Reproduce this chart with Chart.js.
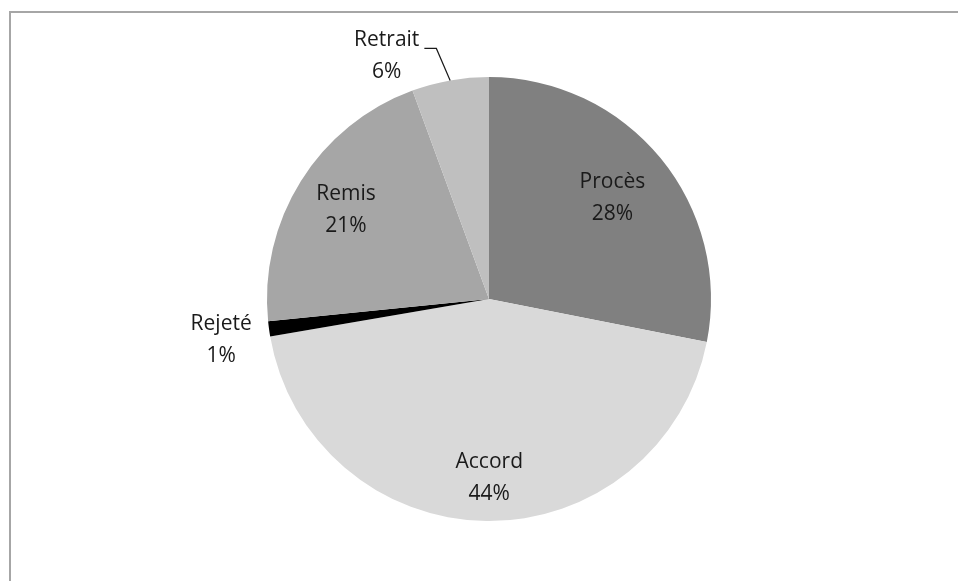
<!DOCTYPE html>
<html>
<head>
<meta charset="utf-8">
<script src="https://cdn.jsdelivr.net/npm/chart.js@4/dist/chart.umd.min.js"></script>
<style>
    html, body { margin: 0; padding: 0; background: #fff; }
    #wrap { width: 958px; height: 581px; }
</style>
</head>
<body>
<div id="wrap"><canvas id="chartIssues"></canvas></div>
<script>
const categories = ["Procès", "Accord", "Rejeté", "Remis", "Retrait"];
const shares = [28.1, 44.2, 1.1, 21.0, 5.6];
const sliceColors = ["#808080", "#d9d9d9", "#000000", "#a6a6a6", "#bfbfbf"];

// label placement per slice: [radius factor, angle shift in degrees]
const labelSpots = [[0.72, 0], [0.8, -0.8], [1.22, -0.8], [0.76, 0], [1.19, -12.7]];
const leaderSlices = [4];

const frame = {
    id: "frame",
    beforeDraw(chart) {
        const ctx = chart.ctx;
        ctx.save();
        ctx.strokeStyle = "#a6a6a6";
        ctx.lineWidth = 2;
        ctx.beginPath();
        ctx.moveTo(10, chart.height);
        ctx.lineTo(10, 12);
        ctx.lineTo(chart.width, 12);
        ctx.stroke();
        ctx.restore();
    }
};

const sliceLabels = {
    id: "sliceLabels",
    afterDatasetsDraw(chart) {
        const ctx = chart.ctx;
        const meta = chart.getDatasetMeta(0);
        const total = shares.reduce((a, b) => a + b, 0);
        ctx.save();
        ctx.font = "21px 'Open Sans'";
        ctx.fillStyle = "#1a1a1a";
        ctx.textAlign = "center";
        ctx.textBaseline = "middle";
        meta.data.forEach((arc, i) => {
            const { x, y, startAngle, endAngle, outerRadius } = arc.getProps(["x", "y", "startAngle", "endAngle", "outerRadius"], true);
            const mid = (startAngle + endAngle) / 2;
            const [k, shift] = labelSpots[i];
            const a = mid + shift * Math.PI / 180;
            const lx = x + Math.cos(a) * outerRadius * k;
            const ly = y + Math.sin(a) * outerRadius * k;
            const pct = Math.round(shares[i] / total * 100) + "%";
            ctx.fillText(categories[i], lx, ly - 15);
            ctx.fillText(pct, lx, ly + 17);

            if (leaderSlices.includes(i)) {
                const ex = x + Math.cos(mid) * outerRadius;
                const ey = y + Math.sin(mid) * outerRadius;
                const w = ctx.measureText(categories[i]).width;
                ctx.strokeStyle = "#1a1a1a";
                ctx.lineWidth = 1.2;
                ctx.beginPath();
                ctx.moveTo(lx + w / 2 + 5, ly - 7);
                ctx.lineTo(lx + w / 2 + 17, ly - 7);
                ctx.lineTo(ex, ey);
                ctx.stroke();
            }
        });
        ctx.restore();
    }
};

new Chart("chartIssues", {
    type: "pie",
    data: {
        labels: categories,
        datasets: [{
            data: shares,
            backgroundColor: sliceColors,
            borderWidth: 0
        }]
    },
    options: {
        responsive: true,
        maintainAspectRatio: false,
        animation: false,
        layout: { padding: { top: 77, bottom: 60, left: 267, right: 247 } },
        plugins: {
            legend: { display: false },
            tooltip: { enabled: false }
        }
    },
    plugins: [frame, sliceLabels]
});
</script>
</body>
</html>
